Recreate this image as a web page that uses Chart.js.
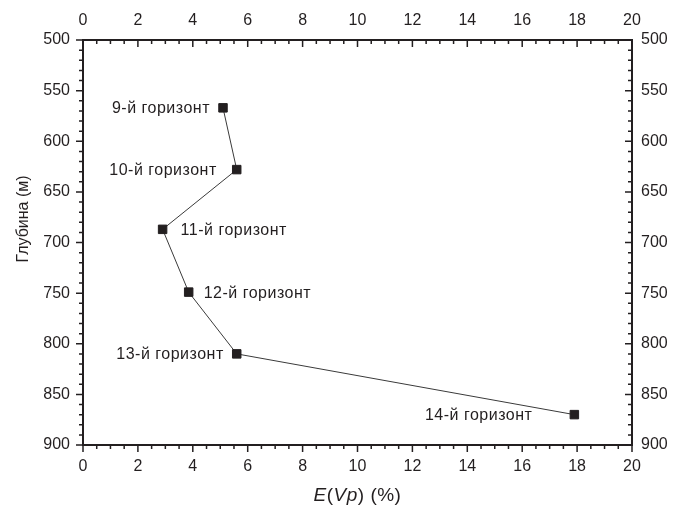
<!DOCTYPE html>
<html>
<head>
<meta charset="utf-8">
<script src="https://cdn.jsdelivr.net/npm/chart.js@4"></script>
<style>
  html, body { margin: 0; padding: 0; background: #fff; }
</style>
</head>
<body>
<canvas id="chart" width="684" height="507"></canvas>
<script>
// data
const horizons = ['9-й горизонт', '10-й горизонт', '11-й горизонт', '12-й горизонт', '13-й горизонт', '14-й горизонт'];
const eVp = [5.1, 5.6, 2.9, 3.85, 5.6, 17.9];
const depth = [567, 628, 687, 749, 810, 870];

// axis ticks
const xTicks = [0, 2, 4, 6, 8, 10, 12, 14, 16, 18, 20];
const yTicks = [500, 550, 600, 650, 700, 750, 800, 850, 900];
const xMinor = 0.5;
const yMinor = 10;

const FONT = "'Liberation Sans', Arial, Helvetica, sans-serif";
const INK = '#231f20';

const points = eVp.map((v, i) => ({ x: v, y: depth[i] }));

// major + minor tick marks (left/bottom out, top/right in)
const axisTicks = {
  id: 'axisTicks',
  afterDraw(chart) {
    const ctx = chart.ctx;
    const { left, right, top, bottom } = chart.chartArea;
    const xs = chart.scales.x;
    const ys = chart.scales.y;
    const isMajor = (v, list) => list.some(t => Math.abs(t - v) < 1e-6);
    ctx.save();
    ctx.strokeStyle = INK;
    ctx.lineWidth = 1.5;
    ctx.beginPath();
    for (let v = xTicks[0]; v <= xTicks[xTicks.length - 1] + 1e-9; v += xMinor) {
      const len = isMajor(v, xTicks) ? 7 : 4;
      const px = xs.getPixelForValue(v);
      ctx.moveTo(px, bottom); ctx.lineTo(px, bottom + len);
      ctx.moveTo(px, top); ctx.lineTo(px, top + len);
    }
    for (let v = yTicks[0]; v <= yTicks[yTicks.length - 1] + 1e-9; v += yMinor) {
      const len = isMajor(v, yTicks) ? 7 : 4;
      const py = ys.getPixelForValue(v);
      ctx.moveTo(left, py); ctx.lineTo(left - len, py);
      ctx.moveTo(right, py); ctx.lineTo(right - len, py);
    }
    ctx.stroke();
    ctx.restore();
  }
};

// text next to each point
const pointLabels = {
  id: 'pointLabels',
  afterDatasetsDraw(chart, args, opts) {
    const ctx = chart.ctx;
    const meta = chart.getDatasetMeta(0);
    ctx.save();
    ctx.font = '16px ' + FONT;
    ctx.letterSpacing = '0.5px';
    ctx.fillStyle = INK;
    ctx.textBaseline = 'middle';
    meta.data.forEach((pt, i) => {
      const side = opts.side[i];
      const gap = opts.gap[i];
      ctx.textAlign = side === 'left' ? 'right' : 'left';
      ctx.fillText(horizons[i], side === 'left' ? pt.x - gap : pt.x + gap, pt.y + 1);
    });
    ctx.restore();
  }
};

// axis titles; x title has italic parts: E(Vp) (%)
const axisTitles = {
  id: 'axisTitles',
  afterDraw(chart) {
    const ctx = chart.ctx;
    const { left, right } = chart.chartArea;
    const parts = [['E', true], ['(', false], ['Vp', true], [') (%)', false]];
    ctx.save();
    ctx.fillStyle = INK;
    ctx.textBaseline = 'middle';
    ctx.textAlign = 'left';
    ctx.letterSpacing = '0.5px';
    const fontOf = it => (it ? 'italic ' : '') + '19px ' + FONT;
    let total = 0;
    parts.forEach(([t, it]) => { ctx.font = fontOf(it); total += ctx.measureText(t).width; });
    let x = (left + right) / 2 - total / 2;
    parts.forEach(([t, it]) => {
      ctx.font = fontOf(it);
      ctx.fillText(t, x, 496);
      x += ctx.measureText(t).width;
    });

    ctx.letterSpacing = '0px';
    ctx.font = '16px ' + FONT;
    ctx.textAlign = 'center';
    ctx.translate(24, 219);
    ctx.rotate(-Math.PI / 2);
    ctx.fillText('Глубина (м)', 0, 0);
    ctx.restore();
  }
};

const tickFont = { family: FONT, size: 16 };
const noGrid = { display: false, drawTicks: false };
const border = { display: true, color: INK, width: 2 };
const setTicks = list => scale => { scale.ticks = list.map(v => ({ value: v })); };

new Chart(document.getElementById('chart'), {
  type: 'scatter',
  data: {
    datasets: [{
      data: points,
      showLine: true,
      borderColor: '#3a3a3a',
      borderWidth: 1,
      pointStyle: 'rect',
      pointRadius: 6,
      pointBackgroundColor: INK,
      pointBorderColor: INK,
      pointBorderWidth: 1
    }]
  },
  options: {
    responsive: false,
    animation: false,
    layout: { padding: 0 },
    plugins: {
      legend: { display: false },
      tooltip: { enabled: false },
      pointLabels: {
        side: ['left', 'left', 'right', 'right', 'left', 'left'],
        gap: [13, 20, 18, 15, 13, 42]
      }
    },
    scales: {
      x: {
        type: 'linear', position: 'bottom',
        min: xTicks[0], max: xTicks[xTicks.length - 1],
        afterBuildTicks: setTicks(xTicks),
        afterFit: s => { s.height = 62; },
        grid: noGrid, border: border,
        ticks: { font: tickFont, color: INK, padding: 12, maxRotation: 0 }
      },
      x2: {
        type: 'linear', position: 'top',
        min: xTicks[0], max: xTicks[xTicks.length - 1],
        afterBuildTicks: setTicks(xTicks),
        afterFit: s => { s.height = 40; },
        grid: noGrid, border: border,
        ticks: { font: tickFont, color: INK, padding: 10, maxRotation: 0 }
      },
      y: {
        type: 'linear', position: 'left', reverse: true,
        min: yTicks[0], max: yTicks[yTicks.length - 1],
        afterBuildTicks: setTicks(yTicks),
        afterFit: s => { s.width = 83; },
        grid: noGrid, border: border,
        ticks: { font: tickFont, color: INK, padding: 13 }
      },
      y2: {
        type: 'linear', position: 'right', reverse: true,
        min: yTicks[0], max: yTicks[yTicks.length - 1],
        afterBuildTicks: setTicks(yTicks),
        afterFit: s => { s.width = 52; },
        grid: noGrid, border: border,
        ticks: { font: tickFont, color: INK, padding: 9 }
      }
    }
  },
  plugins: [axisTicks, pointLabels, axisTitles]
});
</script>
</body>
</html>
